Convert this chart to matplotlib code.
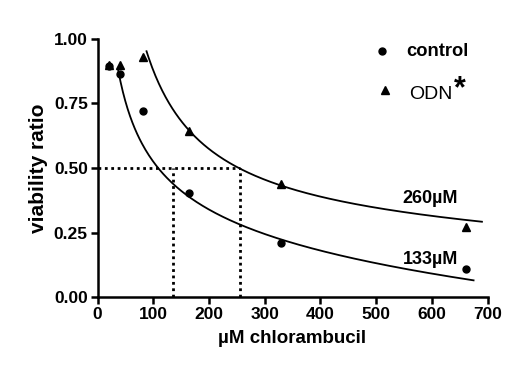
import numpy as np
import matplotlib
matplotlib.use("Agg")
import matplotlib.pyplot as plt

plt.rcParams['font.family'] = ['Liberation Sans', 'DejaVu Sans']

# measured data points
conc = [20, 40, 82, 165, 330, 662]
control = [0.895, 0.862, 0.722, 0.402, 0.209, 0.110]
odn = [0.900, 0.898, 0.930, 0.643, 0.438, 0.273]

# fitted-curve samples
ctrl_curve_x = [37, 46, 58, 76, 94, 117, 165, 253, 328, 447, 609, 675]
ctrl_curve_y = [0.892, 0.789, 0.686, 0.596, 0.544, 0.500, 0.400, 0.286, 0.215, 0.144, 0.082, 0.080]
odn_curve_x = [88, 115, 139, 166, 205, 253, 330, 447, 609, 690]
odn_curve_y = [0.956, 0.795, 0.718, 0.640, 0.570, 0.500, 0.437, 0.363, 0.305, 0.299]

ic50_labels = ["133µM", "260µM"]
ic50_lines = [136, 255]

fig = plt.figure(figsize=(5.2, 3.78), dpi=100)
ax = fig.add_axes([0.1875, 0.2135, 0.750, 0.684])


def smooth(xs, ys, deg=3):
    lx = np.log(np.array(xs, float))
    c = np.polyfit(lx, np.array(ys, float), deg)
    xx = np.linspace(min(xs), max(xs), 300)
    return xx, np.polyval(c, np.log(xx))


cx, cy = smooth(ctrl_curve_x, ctrl_curve_y)
ox, oy = smooth(odn_curve_x, odn_curve_y)
ax.plot(cx, cy, color='black', lw=1.3, zorder=3)
ax.plot(ox, oy, color='black', lw=1.3, zorder=3)

ax.plot(conc, control, 'o', color='black', ms=5, zorder=4)
ax.plot(conc, odn, '^', color='black', ms=5.5, zorder=4)

dot = (0, (1.0, 1.3))
ax.plot([0, ic50_lines[1]], [0.5, 0.5], color='black', lw=2, ls=dot, zorder=2)
for xv in ic50_lines:
    ax.plot([xv, xv], [0, 0.5], color='black', lw=2, ls=dot, zorder=2)

ax.text(597, 0.147, ic50_labels[0], fontsize=13, fontweight='bold', ha='center', va='center')
ax.text(597, 0.383, ic50_labels[1], fontsize=13, fontweight='bold', ha='center', va='center')

# legend
ax.plot([511], [0.952], 'o', color='black', ms=5, clip_on=False)
ax.text(555, 0.952, "control", fontsize=13.2, fontweight='bold', va='center', ha='left')
ax.plot([516], [0.803], '^', color='black', ms=5.5, clip_on=False)
ax.text(560, 0.786, "ODN", fontsize=14, va='center', ha='left')
ax.text(651, 0.805, "*", fontsize=22, fontweight='bold', va='center', ha='center')

ax.set_xlim(0, 700)
ax.set_ylim(0, 1.0)
ax.set_xticks(np.arange(0, 701, 100))
ax.set_yticks([0, 0.25, 0.5, 0.75, 1.0])
ax.set_yticklabels(["0.00", "0.25", "0.50", "0.75", "1.00"])
for s in ['top', 'right']:
    ax.spines[s].set_visible(False)
for s in ['left', 'bottom']:
    ax.spines[s].set_linewidth(1.8)
ax.tick_params(width=1.8, length=5, labelsize=12.5, pad=2)
for lab in ax.get_xticklabels() + ax.get_yticklabels():
    lab.set_fontweight('bold')

ax.set_xlabel("µM chlorambucil", fontsize=13.5, fontweight='bold', labelpad=6)
ax.set_ylabel("viability ratio", fontsize=15, fontweight='bold', labelpad=4)

fig.savefig("out.png", dpi=100)
